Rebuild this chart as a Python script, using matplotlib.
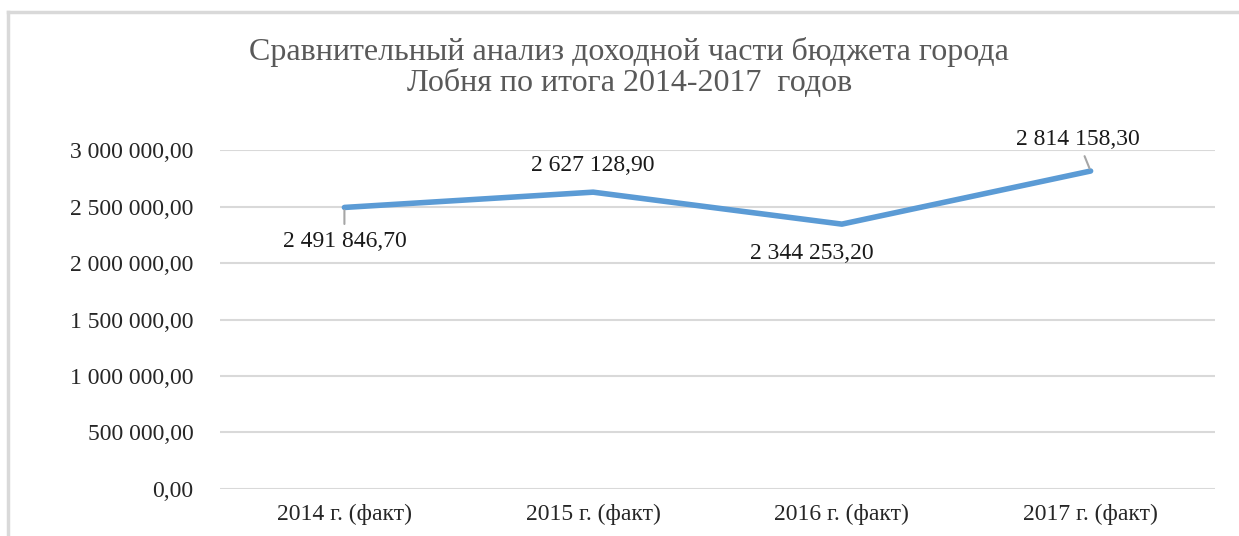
import matplotlib.pyplot as plt
from matplotlib.lines import Line2D

categories = ['2014 г. (факт)', '2015 г. (факт)', '2016 г. (факт)', '2017 г. (факт)']
values = [2491846.70, 2627128.90, 2344253.20, 2814158.30]
value_labels = ['2 491 846,70', '2 627 128,90', '2 344 253,20', '2 814 158,30']
yticks = [0, 500000, 1000000, 1500000, 2000000, 2500000, 3000000]
ytick_labels = ['0,00', '500 000,00', '1 000 000,00', '1 500 000,00',
                '2 000 000,00', '2 500 000,00', '3 000 000,00']

plt.rcParams['font.family'] = ['Liberation Serif', 'DejaVu Serif']

fig = plt.figure(figsize=(12.39, 5.36), dpi=100)
ax = fig.add_axes([0.1776, 0.0877, 0.803, 0.6324])

x = list(range(len(categories)))
ax.plot(x, values, color='#5B9BD5', lw=4, solid_capstyle='round', zorder=3)

ax.set_xlim(-0.5, len(categories) - 0.5)
ax.set_ylim(0, 3000000)
ax.set_yticks(yticks)
ax.set_yticklabels(ytick_labels, fontsize=17, color='#262626')
ax.set_xticks(x)
ax.set_xticklabels(categories, fontsize=17, color='#262626')
ax.tick_params(axis='y', length=0, pad=19)
ax.tick_params(axis='x', length=0, pad=11)
ax.grid(axis='y', color='#D9D9D9', lw=1.5)
ax.set_axisbelow(True)
for s in ax.spines.values():
    s.set_visible(False)

# data labels (offsets in pixels), some with leader lines
offsets = [(0, -34), (0, 27), (-30, -29), (-13, 32)]
leaders = [True, False, False, True]
for i, (v, lab) in enumerate(zip(values, value_labels)):
    dx, dy = offsets[i]
    kw = {}
    if leaders[i]:
        kw['arrowprops'] = dict(arrowstyle='-', color='#A6A6A6', lw=1.5,
                                shrinkA=3, shrinkB=2)
    ax.annotate(lab, (i, v), xytext=(dx, dy), textcoords='offset pixels',
                ha='center', va='center', fontsize=17, color='#1a1a1a', **kw)

fig.text(0.508, 0.874, 'Сравнительный анализ доходной части бюджета города\nЛобня по итога 2014-2017  годов',
         ha='center', va='center', fontsize=23, color='#595959', linespacing=1.1)

# chart frame (left and top edges visible)
fig.add_artist(Line2D([8 / 1239, 8 / 1239], [0, 1 - 12 / 536], transform=fig.transFigure,
                      color='#D9D9D9', lw=2.5))
fig.add_artist(Line2D([8 / 1239, 1], [1 - 12 / 536, 1 - 12 / 536], transform=fig.transFigure,
                      color='#D9D9D9', lw=2.5))

fig.savefig('out.png', dpi=100)
